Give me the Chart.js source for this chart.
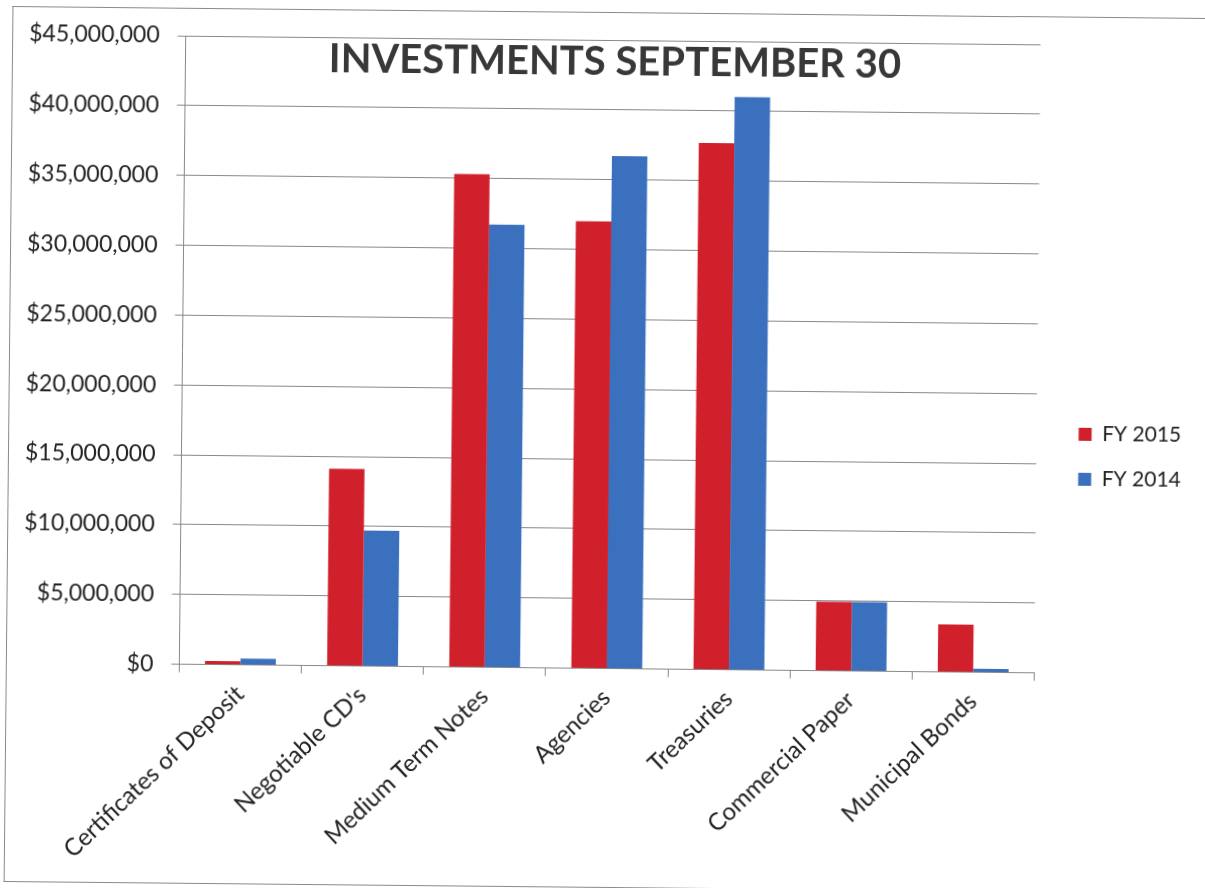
<!DOCTYPE html>
<html>
<head>
<meta charset="utf-8">
<title>Investments September 30</title>
<script src="https://cdn.jsdelivr.net/npm/chart.js@4.4.0/dist/chart.umd.min.js"></script>
<style>
  html, body { margin: 0; padding: 0; background: #fff; overflow: hidden; }
  #wrap {
    position: absolute; left: 0; top: 0; width: 1205px; height: 888px;
    transform: rotate(0.58deg); transform-origin: 608px 354px;
  }
  #frame {
    position: absolute; left: 9px; top: 12px; width: 1220px; height: 876px;
    border: 1px solid #8a8a8a; border-right: none; box-sizing: border-box;
  }
  #chartBox { position: absolute; left: 0; top: 0; width: 1205px; height: 888px; }
</style>
</head>
<body>
<div id="wrap">
  <div id="frame"></div>
  <div id="chartBox"><canvas id="mycanvas"></canvas></div>
</div>
<script>
var categories = ['Certificates of Deposit', "Negotiable CD's", 'Medium Term Notes',
                  'Agencies', 'Treasuries', 'Commercial Paper', 'Municipal Bonds'];
var fy2015 = [250000, 14100000, 35300000, 32000000, 37700000, 4950000, 3400000];
var fy2014 = [450000, 9700000, 31700000, 36700000, 41000000, 4950000, 250000];
var yTicks = [0, 5000000, 10000000, 15000000, 20000000, 25000000, 30000000, 35000000, 40000000, 45000000];

var titleText = 'INVESTMENTS SEPTEMBER 30';
var fontFamily = 'Lato, "Open Sans", sans-serif';

// title sits on top of the plot area, like an overlay title
var overlayTitle = {
  id: 'overlayTitle',
  afterDraw: function(chart) {
    var ctx = chart.ctx;
    var area = chart.chartArea;
    ctx.save();
    ctx.font = 'bold 40px ' + fontFamily;
    ctx.fillStyle = '#383838';
    ctx.textAlign = 'center';
    ctx.textBaseline = 'middle';
    ctx.fillText(titleText, (area.left + area.right) / 2 + 2, area.top + 22);
    ctx.restore();
  }
};

// nudge the legend a little above the vertical middle
var liftLegend = {
  id: 'liftLegend',
  afterLayout: function(chart) {
    if (chart.legend) {
      chart.legend.top -= 6;
      chart.legend.bottom -= 6;
    }
  }
};

function money(v) {
  return '$' + Number(v).toLocaleString('en-US');
}

var chartdata = {
  labels: categories,
  datasets: [
    {
      label: 'FY 2015',
      backgroundColor: '#d0202c',
      data: fy2015
    },
    {
      label: 'FY 2014',
      backgroundColor: '#3b70be',
      data: fy2014
    }
  ]
};

var ctx = document.getElementById('mycanvas');

var barGraph = new Chart(ctx, {
  type: 'bar',
  data: chartdata,
  plugins: [overlayTitle, liftLegend],
  options: {
    responsive: true,
    maintainAspectRatio: false,
    animation: false,
    layout: { padding: { left: 8, right: 13, top: 40, bottom: 12 } },
    datasets: {
      bar: { categoryPercentage: 0.58, barPercentage: 1.0 }
    },
    plugins: {
      title: { display: false },
      tooltip: { enabled: false },
      legend: {
        position: 'right',
        align: 'center',
        labels: {
          color: '#222',
          font: { family: fontFamily, size: 21 },
          boxWidth: 13,
          boxHeight: 13,
          padding: 24
        }
      }
    },
    scales: {
      x: {
        grid: { display: true, drawOnChartArea: false, color: '#888', tickLength: 8, offset: true },
        border: { color: '#888' },
        ticks: {
          color: '#222',
          font: { family: fontFamily, size: 24 },
          padding: 7,
          minRotation: 44,
          maxRotation: 44,
          autoSkip: false
        }
      },
      y: {
        min: 0,
        max: 45000000,
        afterBuildTicks: function(axis) {
          axis.ticks = yTicks.map(function(v) { return { value: v }; });
        },
        grid: { color: '#888', tickLength: 8 },
        border: { color: '#888' },
        ticks: {
          color: '#222',
          font: { family: fontFamily, size: 23 },
          padding: 18,
          callback: function(v) { return money(v); }
        }
      },
      // empty axis on the right keeps a gap between the plot and the legend
      gap: {
        position: 'right',
        display: true,
        grid: { display: false },
        border: { display: false },
        ticks: { display: false },
        afterFit: function(axis) { axis.width = 18; }
      }
    }
  }
});
</script>
</body>
</html>
